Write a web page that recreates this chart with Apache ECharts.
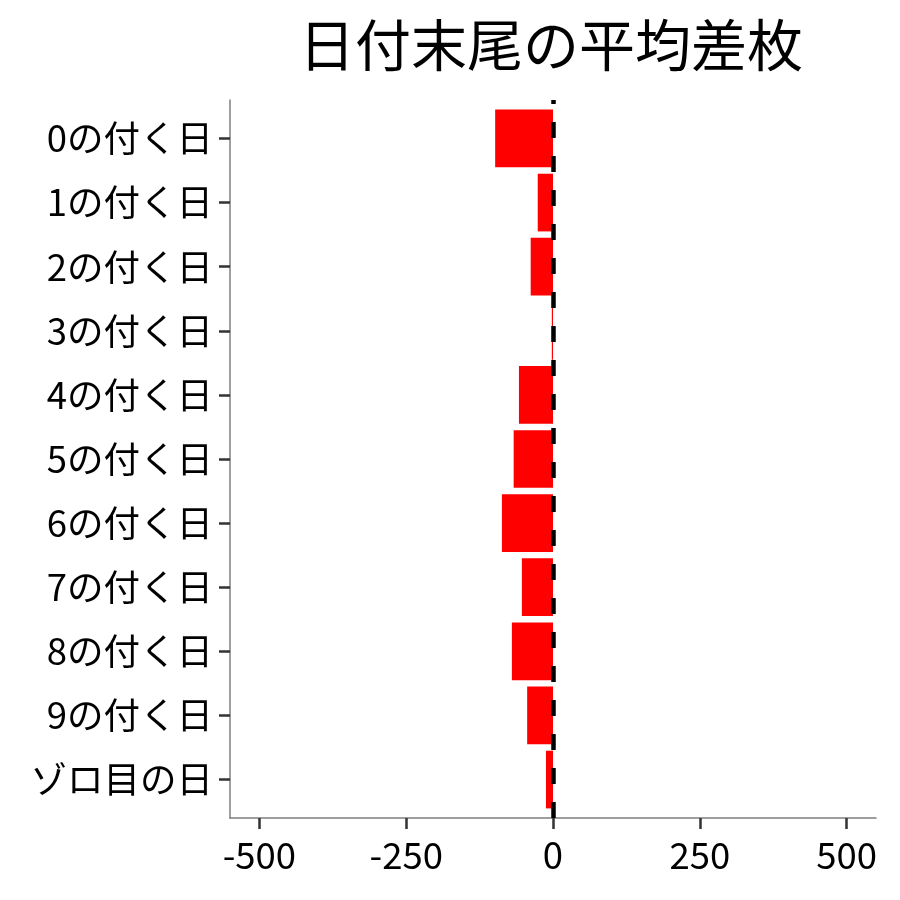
<!DOCTYPE html>
<html>
<head>
<meta charset="utf-8">
<script src="https://cdn.jsdelivr.net/npm/echarts@6/dist/echarts.min.js"></script>
<style>html,body{margin:0;padding:0;background:#fff}#c{width:900px;height:900px}</style>
</head>
<body>
<div id="c"></div>
<script>
const titleText = '日付末尾の平均差枚';
const categories = ['0の付く日','1の付く日','2の付く日','3の付く日','4の付く日','5の付く日','6の付く日','7の付く日','8の付く日','9の付く日','ゾロ目の日'];
const values = [-98.5, -26, -38, -2, -58, -67, -87, -53, -70, -44, -12];
const xTicks = [-500, -250, 0, 250, 500];
const xMin = -550, xMax = 550;
const refValue = 0;

const FONT = '"Noto Sans CJK JP", "Noto Sans", sans-serif';
const chart = echarts.init(document.getElementById('c'), null, {renderer: 'canvas'});
chart.setOption({
  backgroundColor: '#ffffff',
  animation: false,
  title: {
    text: titleText, left: 294, top: 12,
    textStyle: {fontFamily: FONT, fontSize: 56, fontWeight: 'normal', color: '#000'}
  },
  grid: [
    {left: 230, right: 24, top: 106.4, bottom: 88.4, containLabel: false},
    {left: 230, right: 24, top: 100, bottom: 82, containLabel: false}
  ],
  xAxis: [
    {gridIndex: 0, type: 'value', min: xMin, max: xMax, show: false, splitLine: {show: false}},
    {gridIndex: 1, type: 'value', min: xMin, max: xMax,
     axisLine: {show: true, onZero: false, lineStyle: {color: '#7f7f7f', width: 1.5}},
     axisTick: {show: true, customValues: xTicks, length: 11, lineStyle: {color: '#333', width: 2.5}},
     axisLabel: {customValues: xTicks, margin: 19, fontFamily: FONT, fontSize: 36.5, color: '#000'},
     splitLine: {show: false}}
  ],
  yAxis: [
    {gridIndex: 0, type: 'category', data: categories, inverse: true,
     axisLine: {show: false, onZero: false},
     axisTick: {show: true, alignWithLabel: true, length: 11, lineStyle: {color: '#333', width: 2.5}},
     axisLabel: {margin: 17, fontFamily: FONT, fontSize: 36.5, color: '#000'},
     splitLine: {show: false}},
    {gridIndex: 1, type: 'value', min: 0, max: 1,
     axisLine: {show: true, onZero: false, lineStyle: {color: '#7f7f7f', width: 1.5}},
     axisTick: {show: false}, axisLabel: {show: false}, splitLine: {show: false}}
  ],
  series: [
    {type: 'bar', xAxisIndex: 0, yAxisIndex: 0, data: values, barCategoryGap: '10%',
     itemStyle: {color: '#ff0000'}, z: 2},
    {type: 'line', xAxisIndex: 1, yAxisIndex: 1, data: [], z: 10,
     markLine: {silent: true, symbol: 'none', label: {show: false},
       lineStyle: {color: '#000', type: [16, 18], width: 4.5},
       data: [{xAxis: refValue}]}}
  ]
});
</script>
</body>
</html>
